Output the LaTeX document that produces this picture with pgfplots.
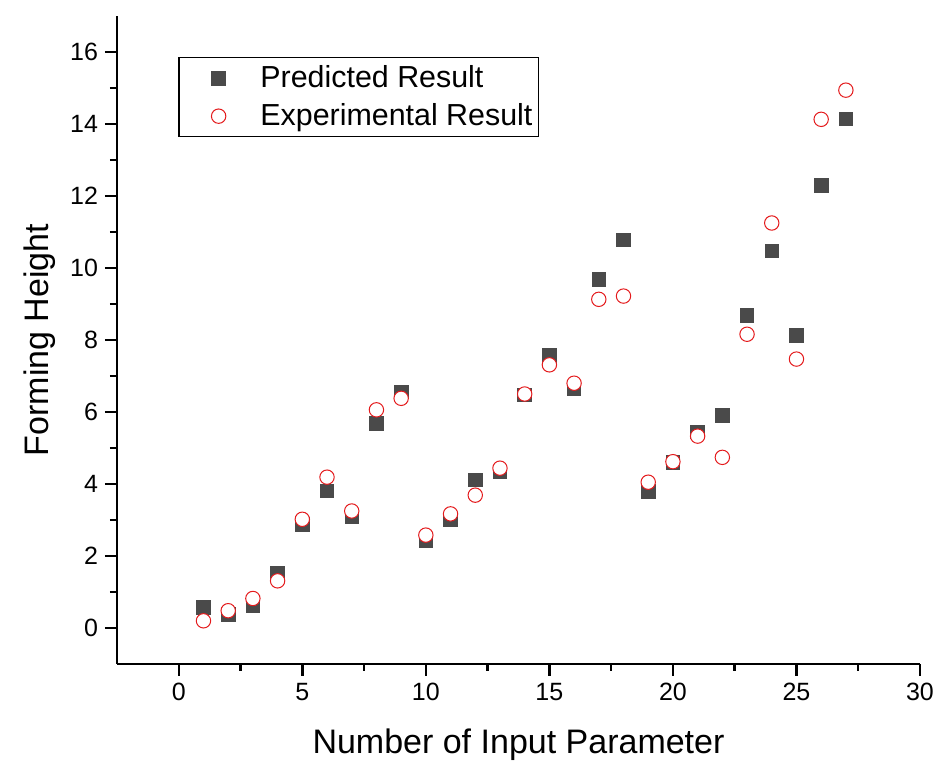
\documentclass[border=0pt]{standalone}
\usepackage{fontspec}
\setmainfont{Liberation Sans}
\usepackage{pgfplots}
\pgfplotsset{compat=1.18}
\definecolor{sqgray}{HTML}{4A4A4A}
\definecolor{circred}{HTML}{E41A1C}
\pgfplotsset{singlemark legend/.style={legend image code/.code={\path (0pt,0pt) (37pt,0pt); \draw[##1] plot coordinates {(18.5pt,0pt)};}}}
\begin{document}
\begin{tikzpicture}
\path[use as bounding box] (-58.5pt,-56pt) rectangle (416pt,332pt);
\begin{axis}[
  at={(0,0)}, anchor=south west,
  width=401.5pt, height=324pt, scale only axis,
  xmin=-2.5, xmax=30, ymin=-1, ymax=17,
  axis x line*=bottom, axis y line*=left,
  axis line style={line width=1.2pt, -},
  every tick/.style={line width=1.2pt, black},
  tick align=outside,
  major tick length=6pt, minor tick length=3.5pt,
  xtick={0,5,...,30}, ytick={0,2,...,16},
  minor x tick num=1, minor y tick num=1,
  /pgf/number format/assume math mode=true,
  tick label style={font=\fontsize{12.5}{15}\selectfont},
  label style={font=\fontsize{17}{20}\selectfont},
  xlabel={Number of Input Parameter},
  ylabel={Forming Height},
  x label style={at={(axis description cs:0.5,-0.125)}, anchor=center},
  y label style={at={(axis description cs:-0.096,0.5)}, anchor=center},
  legend style={at={(axis description cs:0.076,0.937)}, anchor=north west,
    draw=black, line width=0.8pt, font=\fontsize{15.2}{18}\selectfont,
    cells={anchor=west}, row sep=2.5pt, inner xsep=1pt, inner ysep=2pt},
]
\addplot[only marks, mark=square*, mark size=3.4pt, color=sqgray, mark options={fill=sqgray, draw=sqgray}, singlemark legend]
coordinates {
(1,0.58) (2,0.37) (3,0.62) (4,1.53) (5,2.88) (6,3.81) (7,3.09) (8,5.69) (9,6.56)
(10,2.44) (11,3.0) (12,4.11) (13,4.34) (14,6.47) (15,7.58) (16,6.66) (17,9.69) (18,10.78)
(19,3.79) (20,4.6) (21,5.45) (22,5.9) (23,8.69) (24,10.48) (25,8.12) (26,12.29) (27,14.14)
};
\addlegendentry{Predicted Result}
\addplot[only marks, mark=*, mark size=3.6pt, color=circred, mark options={fill=white, draw=circred, line width=0.5pt}, singlemark legend]
coordinates {
(1,0.2) (2,0.48) (3,0.82) (4,1.31) (5,3.02) (6,4.19) (7,3.25) (8,6.06) (9,6.38)
(10,2.58) (11,3.17) (12,3.69) (13,4.44) (14,6.5) (15,7.31) (16,6.8) (17,9.13) (18,9.22)
(19,4.05) (20,4.62) (21,5.33) (22,4.74) (23,8.16) (24,11.25) (25,7.47) (26,14.13) (27,14.94)
};
\addlegendentry{Experimental Result}
\end{axis}
\end{tikzpicture}
\end{document}
